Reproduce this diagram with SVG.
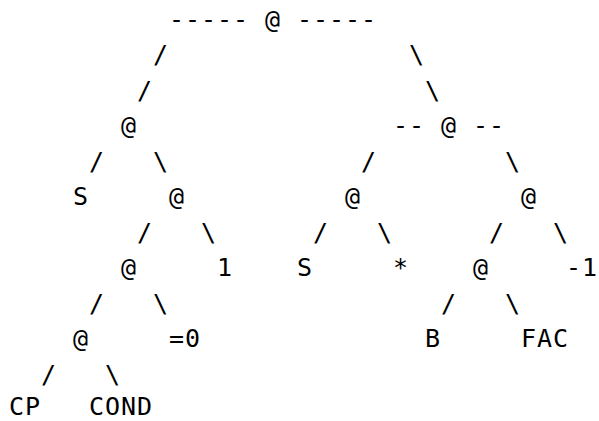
<svg xmlns="http://www.w3.org/2000/svg" width="599" height="421" viewBox="0 0 599 421">
  <style>
    text { font-family: "DejaVu Sans Mono", "Liberation Mono", monospace; font-size: 25px; letter-spacing: 0.95px; fill: #000; }
  </style>
  <rect width="599" height="421" fill="#fff"/>
  <!-- character grid: column c at x = 9 + 16c, row r baseline at y = 27.5 + 35.5r -->
  <g id="connectors">
    <text x="169" y="27.5">-----</text>
    <text x="297" y="27.5">-----</text>
    <text x="153" y="63">/</text>
    <text x="409" y="63">\</text>
    <text x="137" y="98.5">/</text>
    <text x="425" y="98.5">\</text>
    <text x="393" y="134">--</text>
    <text x="473" y="134">--</text>
    <text x="89" y="169.5">/</text>
    <text x="153" y="169.5">\</text>
    <text x="361" y="169.5">/</text>
    <text x="505" y="169.5">\</text>
    <text x="137" y="240.5">/</text>
    <text x="201" y="240.5">\</text>
    <text x="313" y="240.5">/</text>
    <text x="377" y="240.5">\</text>
    <text x="489" y="240.5">/</text>
    <text x="553" y="240.5">\</text>
    <text x="89" y="311.5">/</text>
    <text x="153" y="311.5">\</text>
    <text x="441" y="311.5">/</text>
    <text x="505" y="311.5">\</text>
    <text x="41" y="382.5">/</text>
    <text x="105" y="382.5">\</text>
  </g>
  <g id="root"><text x="265" y="27.5">@</text></g>
  <g id="app-left"><text x="121" y="134">@</text></g>
  <g id="app-right"><text x="441" y="134">@</text></g>
  <g id="s-1"><text x="73" y="205">S</text></g>
  <g id="app-l2"><text x="169" y="205">@</text></g>
  <g id="app-r2a"><text x="345" y="205">@</text></g>
  <g id="app-r2b"><text x="521" y="205">@</text></g>
  <g id="app-l3"><text x="121" y="276">@</text></g>
  <g id="one"><text x="217" y="276">1</text></g>
  <g id="s-2"><text x="297" y="276">S</text></g>
  <g id="times"><text x="393" y="276">*</text></g>
  <g id="app-r3"><text x="473" y="276">@</text></g>
  <g id="minus-one"><text x="566" y="276">-1</text></g>
  <g id="app-l4"><text x="73" y="347">@</text></g>
  <g id="eq-zero"><text x="169" y="347">=0</text></g>
  <g id="b"><text x="425" y="347">B</text></g>
  <g id="fac"><text x="521" y="347">FAC</text></g>
  <g id="cp"><text x="9" y="415">CP</text></g>
  <g id="cond"><text x="89" y="415">COND</text></g>
</svg>
